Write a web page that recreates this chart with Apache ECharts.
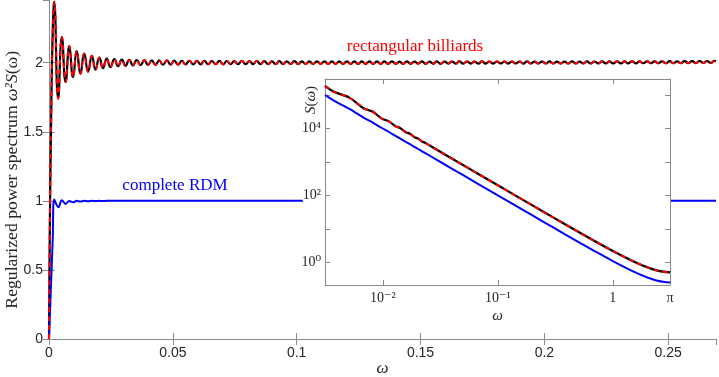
<!DOCTYPE html>
<html lang="en">
<head>
    <meta charset="UTF-8">
    <title>Regularized power spectrum</title>
    <style>
        html, body { margin: 0; padding: 0; background: #fff; }
        #chart1 { width: 719px; height: 377px; }
    </style>
</head>
<body>
<div id="chart1"></div>
<script src="https://cdn.jsdelivr.net/npm/echarts@6/dist/echarts.min.js"></script>
<script type="text/javascript">
    // main plot: rectangular billiards (extrema of the oscillation)
    var billiardW = [0, 0.0003, 0.0008, 0.0014,
        0.0021, 0.0037, 0.0052, 0.0067, 0.0082, 0.0097, 0.0112, 0.0127, 0.0142, 0.0158,
        0.0173, 0.0188, 0.0203, 0.0218, 0.0233, 0.0248, 0.0264, 0.0279, 0.0294, 0.0309,
        0.0324, 0.0339, 0.0354, 0.0370, 0.0385, 0.0400, 0.0415, 0.0430, 0.0445, 0.0460,
        0.0476, 0.0491, 0.0506, 0.0521, 0.0536, 0.0551, 0.0567, 0.0582, 0.0597, 0.0612,
        0.0627, 0.0642, 0.0657, 0.0673, 0.0688, 0.0703, 0.0718, 0.0733, 0.0748, 0.0763,
        0.0779, 0.0794, 0.0809, 0.0824, 0.0839, 0.0854, 0.0869, 0.0885, 0.0900, 0.0915,
        0.0930, 0.0945, 0.0960, 0.0975, 0.0991, 0.1006, 0.1021, 0.1036, 0.1051, 0.1066,
        0.1082, 0.1097, 0.1112, 0.1127, 0.1142, 0.1157, 0.1172, 0.1187, 0.1203, 0.1218,
        0.1233, 0.1248, 0.1263, 0.1278, 0.1294, 0.1309, 0.1324, 0.1339, 0.1354, 0.1369,
        0.1385, 0.1400, 0.1415, 0.1430, 0.1445, 0.1460, 0.1475, 0.1490, 0.1506, 0.1521,
        0.1536, 0.1551, 0.1566, 0.1581, 0.1597, 0.1612, 0.1627, 0.1642, 0.1657, 0.1672,
        0.1688, 0.1703, 0.1718, 0.1733, 0.1748, 0.1763, 0.1778, 0.1793, 0.1809, 0.1824,
        0.1839, 0.1854, 0.1869, 0.1884, 0.1900, 0.1915, 0.1930, 0.1945, 0.1960, 0.1975,
        0.1991, 0.2006, 0.2021, 0.2036, 0.2051, 0.2066, 0.2081, 0.2096, 0.2112, 0.2127,
        0.2142, 0.2157, 0.2172, 0.2187, 0.2203, 0.2218, 0.2233, 0.2248, 0.2263, 0.2278,
        0.2294, 0.2309, 0.2324, 0.2339, 0.2354, 0.2369, 0.2384, 0.2399, 0.2415, 0.2430,
        0.2445, 0.2460, 0.2475, 0.2490, 0.2506, 0.2521, 0.2536, 0.2551, 0.2566, 0.2581,
        0.2597, 0.2612, 0.2627, 0.2642, 0.2657, 0.2672, 0.2687, 0.2693];
    var billiardY = [0, 0.75, 1.5, 2.15,
        2.44, 1.74, 2.185, 1.86, 2.12, 1.896, 2.084, 1.92, 2.065, 1.935,
        2.05, 1.95, 2.036, 1.96, 2.03, 1.968, 2.025, 1.974, 2.022, 1.978,
        2.02, 1.98, 2.019, 1.982, 2.018, 1.983, 2.017, 1.984, 2.016, 1.985,
        2.016, 1.986, 2.015, 1.986, 2.014, 1.987, 2.014, 1.987, 2.013, 1.988,
        2.013, 1.988, 2.012, 1.989, 2.013, 1.988, 2.012, 1.989, 2.011, 1.99,
        2.012, 1.989, 2.011, 1.99, 2.012, 1.989, 2.011, 1.99, 2.010, 1.99,
        2.011, 1.99, 2.010, 1.991, 2.011, 1.99, 2.010, 1.991, 2.010, 1.991,
        2.010, 1.991, 2.009, 1.991, 2.010, 1.991, 2.009, 1.992, 2.010, 1.991,
        2.009, 1.992, 2.009, 1.992, 2.010, 1.991, 2.009, 1.992, 2.009, 1.992,
        2.009, 1.992, 2.008, 1.992, 2.009, 1.992, 2.008, 1.993, 2.009, 1.992,
        2.008, 1.993, 2.009, 1.992, 2.008, 1.993, 2.008, 1.993, 2.009, 1.993,
        2.008, 1.993, 2.008, 1.993, 2.009, 1.993, 2.008, 1.993, 2.008, 1.994,
        2.008, 1.993, 2.008, 1.994, 2.008, 1.993, 2.009, 1.994, 2.008, 1.994,
        2.008, 1.994, 2.009, 1.994, 2.008, 1.994, 2.008, 1.994, 2.009, 1.994,
        2.008, 1.995, 2.009, 1.994, 2.008, 1.995, 2.009, 1.995, 2.009, 1.995,
        2.009, 1.995, 2.009, 1.995, 2.010, 1.995, 2.009, 1.996, 2.010, 1.996,
        2.010, 1.996, 2.010, 1.996, 2.011, 1.996, 2.010, 1.997, 2.011, 1.997,
        2.011, 1.997, 2.012, 1.998, 2.012, 1.998, 2.013, 2.010];

    // main plot: complete RDM
    var rdmW = [0, 0.0015, 0.0021, 0.0038, 0.0052, 0.0067, 0.0082, 0.0097, 0.0112, 0.0127,
        0.0142, 0.0158, 0.0173, 0.0188, 0.0203, 0.0218, 0.0233, 0.03, 0.1, 0.2, 0.2693];
    var rdmY = [0, 0.72, 1.01, 0.954, 1.005, 0.978, 0.999, 0.99, 1.0, 0.995,
        1.0, 0.997, 1.0, 0.998, 1.0, 0.999, 1.0, 1.0, 1.0, 1.0, 1.0];

    // inset: S(omega) on log-log axes
    var insetW = [0.00314, 0.00375, 0.00512, 0.00685, 0.00819, 0.0098, 0.0113, 0.0128, 0.0142,
        0.0157, 0.0172, 0.0188, 0.0203, 0.0218, 0.0234, 0.03, 0.05, 0.1, 0.2, 0.3, 0.5, 0.7,
        1.0, 1.5, 2.0, 2.5, 3.1415];
    var insetBilliard = [186000, 124000, 83400, 39600, 31600, 19700, 16300, 11800, 10200,
        7850, 6910, 5520, 4950, 4120, 3710, 2220, 800, 200, 50.2, 22.4, 8.17, 4.25,
        2.18, 1.08, 0.706, 0.555, 0.5];
    var insetRdm = [101000, 68000, 38200, 20800, 14900, 10300, 7830, 6080, 4960,
        4050, 3380, 2830, 2430, 2100, 1830, 1110, 400, 100, 25.1, 11.2, 4.09, 2.13,
        1.09, 0.538, 0.353, 0.278, 0.25];

    var mainXTicks = {min: 0, max: 0.2693, interval: 0.05};
    var mainYTicks = {min: 0, max: 2.45, interval: 0.5};
    var insetXRange = {min: Math.PI / 1000, max: Math.PI};
    var insetYRange = {min: 0.21, max: 300000};

    var chart1 = echarts.init(document.getElementById('chart1'));

    function zip(a, b) {
        var out = [];
        for (var i = 0; i < a.length; i++) out.push([a[i], b[i]]);
        return out;
    }

    var SUP = {'-': '⁻', '0': '⁰', '1': '¹', '2': '²', '3': '³', '4': '⁴', '5': '⁵', '6': '⁶', '7': '⁷', '8': '⁸', '9': '⁹'};
    function pow10(e) {
        return '10' + String(e).split('').map(function (c) { return SUP[c]; }).join('');
    }
    function insetXLabel(v) {
        if (Math.abs(v - Math.PI) < 1e-3) return 'π';
        var e = Math.log10(v), r = Math.round(e);
        if (Math.abs(e - r) > 1e-6) return '';
        return r === 0 ? '1' : pow10(r);
    }
    function insetYLabel(v) {
        var e = Math.log10(v), r = Math.round(e);
        if (Math.abs(e - r) > 1e-6 || r % 2 !== 0) return '';
        return pow10(r);
    }

    var axisGray = '#8a8a8a';
    var textGray = '#262626';
    var serif = '"Liberation Serif", "DejaVu Serif", serif';
    var sans = '"Liberation Sans", Arial, sans-serif';

    function boxAxis(extra) {
        var base = {
            nameMoveOverlap: false,
            axisLine: {show: true, lineStyle: {color: axisGray, width: 1}},
            axisTick: {show: true, inside: true, length: 6, lineStyle: {color: axisGray}},
            axisLabel: {show: false},
            splitLine: {show: false}
        };
        return Object.assign(base, extra);
    }

    chart1.setOption({
        animation: false,
        backgroundColor: '#fff',
        grid: [
            {left: 49, top: 0.5, right: 3, bottom: 38, show: false, outerBoundsMode: 'none', containLabel: false},
            {left: 325, top: 79, width: 345, height: 206, show: true, backgroundColor: '#fff', borderWidth: 0, z: 10,
                outerBoundsMode: 'none', containLabel: false}
        ],
        xAxis: [
            boxAxis({
                type: 'value', gridIndex: 0, position: 'bottom',
                min: mainXTicks.min, max: mainXTicks.max, interval: mainXTicks.interval,
                axisLabel: {show: true, showMaxLabel: false, margin: 7, color: textGray, fontFamily: sans, fontSize: 14},
                name: 'ω', nameLocation: 'middle', nameGap: 21,
                nameTextStyle: {fontFamily: serif, fontStyle: 'italic', fontSize: 17, color: textGray}
            }),
            boxAxis({
                type: 'value', gridIndex: 0, position: 'top',
                min: mainXTicks.min, max: mainXTicks.max, interval: mainXTicks.interval
            }),
            boxAxis({
                type: 'log', gridIndex: 1, position: 'bottom', z: 11,
                min: insetXRange.min, max: insetXRange.max,
                axisTick: {show: true, inside: true, length: 5, lineStyle: {color: axisGray}},
                axisLabel: {show: true, showMinLabel: false, showMaxLabel: true, margin: 6, color: textGray,
                    fontFamily: serif, fontSize: 14, formatter: insetXLabel},
                name: 'ω', nameLocation: 'middle', nameGap: 24,
                nameTextStyle: {fontFamily: serif, fontStyle: 'italic', fontSize: 15, color: textGray}
            }),
            boxAxis({
                type: 'log', gridIndex: 1, position: 'top', z: 11,
                min: insetXRange.min, max: insetXRange.max,
                axisTick: {show: true, inside: true, length: 5, lineStyle: {color: axisGray}}
            })
        ],
        yAxis: [
            boxAxis({
                type: 'value', gridIndex: 0, position: 'left',
                min: mainYTicks.min, max: mainYTicks.max, interval: mainYTicks.interval,
                axisLabel: {show: true, showMaxLabel: false, margin: 6, color: textGray, fontFamily: sans, fontSize: 14},
                name: 'Regularized power spectrum {i|ω²S}(ω)', nameLocation: 'middle', nameGap: 28,
                nameTextStyle: {
                    fontFamily: serif, fontSize: 17.7, color: textGray, padding: [0, 20, 0, 0],
                    rich: {i: {fontFamily: serif, fontStyle: 'italic', fontSize: 17.7, color: textGray}}
                }
            }),
            boxAxis({
                type: 'value', gridIndex: 0, position: 'right',
                min: mainYTicks.min, max: mainYTicks.max, interval: mainYTicks.interval
            }),
            boxAxis({
                type: 'log', gridIndex: 1, position: 'left', z: 11,
                min: insetYRange.min, max: insetYRange.max,
                axisTick: {show: true, inside: true, length: 5, lineStyle: {color: axisGray}},
                axisLabel: {show: true, showMinLabel: false, showMaxLabel: false, margin: 0, color: textGray,
                    fontFamily: serif, fontSize: 14, formatter: insetYLabel,
                    backgroundColor: '#fff', padding: [1, 4, 1, 0]}
            }),
            boxAxis({
                type: 'log', gridIndex: 1, position: 'right', z: 11,
                min: insetYRange.min, max: insetYRange.max,
                axisTick: {show: true, inside: true, length: 5, lineStyle: {color: axisGray}}
            })
        ],
        graphic: [
            {
                type: 'text', x: 415, y: 47, z: 100,
                style: {text: 'rectangular billiards', fill: '#ff0000', font: '17px ' + serif, align: 'center', verticalAlign: 'middle'}
            },
            {
                type: 'text', x: 175, y: 186, z: 100,
                style: {text: 'complete RDM', fill: '#0000ff', font: '17px ' + serif, align: 'center', verticalAlign: 'middle'}
            },
            {
                type: 'text', x: 311, y: 100, rotation: Math.PI / 2, z: 100,
                style: {
                    text: '{i|S}{r|(}{i|ω}{r|)}', align: 'center', verticalAlign: 'middle',
                    rich: {
                        i: {fontFamily: serif, fontStyle: 'italic', fontSize: 15, fill: textGray},
                        r: {fontFamily: serif, fontSize: 15, fill: textGray}
                    }
                }
            }
        ],
        series: [
            {
                type: 'line', xAxisIndex: 0, yAxisIndex: 0, z: 2,
                data: zip(billiardW, billiardY), showSymbol: false, smooth: 0.5,
                lineStyle: {color: '#000', width: 2.2}
            },
            {
                type: 'line', xAxisIndex: 0, yAxisIndex: 0, z: 3,
                data: zip(billiardW, billiardY), showSymbol: false, smooth: 0.5,
                lineStyle: {color: '#ff0000', width: 2, type: [5, 4]}
            },
            {
                type: 'line', xAxisIndex: 0, yAxisIndex: 0, z: 2,
                data: zip(rdmW, rdmY), showSymbol: false, smooth: 0.4,
                lineStyle: {color: '#0000ff', width: 2}
            },
            {
                type: 'line', xAxisIndex: 2, yAxisIndex: 2, z: 12,
                data: zip(insetW, insetRdm), showSymbol: false, smooth: 0.3,
                lineStyle: {color: '#0000ff', width: 2}
            },
            {
                type: 'line', xAxisIndex: 2, yAxisIndex: 2, z: 12,
                data: zip(insetW, insetBilliard), showSymbol: false, smooth: 0.3,
                lineStyle: {color: '#000', width: 2.2}
            },
            {
                type: 'line', xAxisIndex: 2, yAxisIndex: 2, z: 13,
                data: zip(insetW, insetBilliard), showSymbol: false, smooth: 0.3,
                lineStyle: {color: '#ff0000', width: 2, type: [5, 4]}
            }
        ]
    });
</script>
</body>
</html>
